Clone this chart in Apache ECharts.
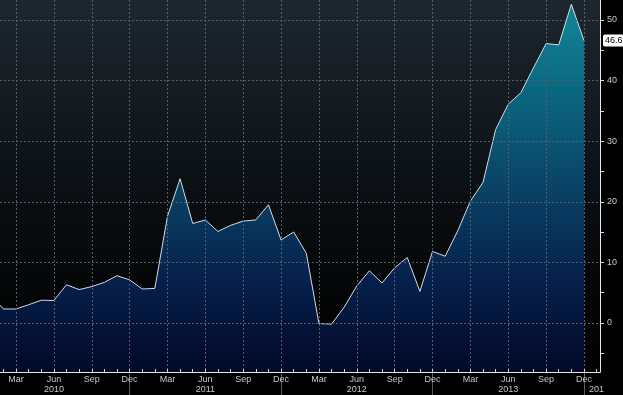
<!DOCTYPE html>
<html>
<head>
<meta charset="utf-8">
<script src="https://cdn.jsdelivr.net/npm/echarts@6/dist/echarts.min.js"></script>
<style>
html,body{margin:0;padding:0;background:#000;}
#chart{width:623px;height:395px;}
</style>
</head>
<body>
<div id="chart"></div>
<script>
// ---- data (monthly, Jan 2010 .. Dec 2013) ----
const monthNames = ['Jan','Feb','Mar','Apr','May','Jun','Jul','Aug','Sep','Oct','Nov','Dec'];
const startYear = 2010;
const values = [
  4.5, 2.3, 2.3, 3.0, 3.75, 3.7, 6.3, 5.5, 6.0, 6.7, 7.8, 7.1,
  5.6, 5.7, 17.6, 23.8, 16.4, 17.0, 15.1, 16.1, 16.8, 17.0, 19.5, 13.7,
  15.0, 11.5, -0.1, -0.2, 2.6, 6.1, 8.6, 6.6, 9.1, 10.8, 5.2, 11.8,
  11.0, 15.2, 20.1, 23.2, 31.9, 36.1, 38.0, 42.1, 46.1, 45.9, 52.6, 46.6
];
const quarterMonths = ['Mar','Jun','Sep','Dec'];
const yearLabelMonth = 'Jun';
const separatorMonth = 'Dec';
const clippedYearLabel = '201';
const yTickLabels = [0, 10, 20, 30, 40, 50];

// ---- layout ----
const W = 623, H = 395;
const plotRight = 600, plotBottom = 372;
const xMin = 0.73, xMax = 48.27;
const yMin = -8.1, yMax = 53.3;
const pxPerMonth = plotRight / (xMax - xMin);
const pxPerUnit = plotBottom / (yMax - yMin);

// axis-only categories: Feb 2010 .. Jan 2014 (indices 1..48)
const tickMonths = [];
for (let i = 1; i <= values.length; i++) {
  tickMonths.push(monthNames[i % 12] + ' ' + (startYear + Math.floor(i / 12)));
}
const tickLeft = (1 - xMin) * pxPerMonth;
const tickRight = W - (values.length - xMin) * pxPerMonth;

const seriesData = values.map((v, i) => [i, v]);
const lastValue = values[values.length - 1];

const gridColor = '#555d66';
const textColor = '#c8c8c8';
const font = 'Liberation Sans, Arial, sans-serif';

const isQuarter = (idx, v) => quarterMonths.indexOf(String(v).split(' ')[0]) >= 0;
const isYearLabel = (idx, v) => {
  const m = String(v).split(' ')[0];
  return m === yearLabelMonth || idx === tickMonths.length - 1;
};
const isSeparator = (idx, v) => String(v).split(' ')[0] === separatorMonth;

const chart = echarts.init(document.getElementById('chart'), null, {renderer: 'canvas'});
chart.setOption({
  animation: false,
  backgroundColor: '#000',
  grid: [
    {left: 0, right: W - plotRight, top: 0, bottom: H - plotBottom, show: true, borderWidth: 0,
     backgroundColor: {type: 'linear', x: 0, y: 0, x2: 0, y2: 1, colorStops: [
       {offset: 0, color: '#1e272f'}, {offset: 0.45, color: '#0d1217'},
       {offset: 0.75, color: '#050607'}, {offset: 1, color: '#020202'}]}},
    {left: tickLeft, right: tickRight, top: 0, bottom: H - plotBottom},
    {left: 0, right: W - plotRight, top: (yMax - 50) * pxPerUnit, bottom: H - (yMax + 5) * pxPerUnit}
  ],
  xAxis: [
    {type: 'value', gridIndex: 0, min: xMin, max: xMax, z: 6,
     axisLine: {show: true, onZero: false, lineStyle: {color: '#e6e6e6', width: 1}},
     axisTick: {show: false}, axisLabel: {show: false}, splitLine: {show: false}},
    {type: 'category', gridIndex: 1, data: tickMonths, boundaryGap: false, position: 'bottom', z: 5,
     axisLine: {show: false, onZero: false},
     axisTick: {show: true, inside: true, length: 3, interval: 0, lineStyle: {color: '#d0d0d0'}},
     axisLabel: {interval: isQuarter, color: textColor, fontSize: 9, fontFamily: font, margin: 3,
                 formatter: v => v.split(' ')[0]},
     splitLine: {show: true, interval: isQuarter, lineStyle: {color: gridColor, type: [2, 2], width: 1}}},
    {type: 'category', gridIndex: 1, data: tickMonths, boundaryGap: false, position: 'bottom', z: 5,
     axisLine: {show: false, onZero: false},
     axisTick: {show: true, inside: false, length: 23, interval: isSeparator, lineStyle: {color: '#5a5a5a'}},
     axisLabel: {interval: isYearLabel, color: textColor, fontSize: 9, fontFamily: font, margin: 13,
                 formatter: (v, idx) => idx === tickMonths.length - 1 ? clippedYearLabel : v.split(' ')[1]},
     splitLine: {show: false}},
    {type: 'value', gridIndex: 2, min: 0, max: 1, show: false, axisLine: {onZero: false}}
  ],
  yAxis: [
    {type: 'value', gridIndex: 0, min: yMin, max: yMax, position: 'right', z: 6,
     axisLine: {show: true, onZero: false, lineStyle: {color: '#e6e6e6', width: 1}},
     axisTick: {show: false}, axisLabel: {show: false}, splitLine: {show: false}},
    {type: 'value', gridIndex: 1, show: false, axisLine: {onZero: false}},
    {type: 'value', gridIndex: 2, min: -5, max: 50, interval: 5, position: 'right', z: 5,
     axisLine: {show: false, onZero: false},
     axisTick: {show: true, length: 4, lineStyle: {color: '#dcdcdc'}},
     axisLabel: {color: textColor, fontSize: 9, fontFamily: font, margin: 7,
                 formatter: v => yTickLabels.indexOf(v) >= 0 ? String(v) : ''},
     splitLine: {show: true, lineStyle: {color: ['rgba(0,0,0,0)', gridColor], type: [2, 2], width: 1}}}
  ],
  series: [{
    type: 'line', xAxisIndex: 0, yAxisIndex: 0, data: seriesData,
    symbol: 'none', showSymbol: false, clip: true, z: 2,
    lineStyle: {color: '#d4dbe0', width: 1},
    areaStyle: {origin: 'start', opacity: 1,
      color: {type: 'linear', x: 0, y: 0, x2: 0, y2: plotBottom, global: true, colorStops: [
        {offset: 0, color: '#12899a'}, {offset: 0.25, color: '#0b6680'},
        {offset: 0.5, color: '#0a4366'}, {offset: 0.75, color: '#06214c'},
        {offset: 1, color: '#020828'}]}},
    markLine: {
      silent: true, symbol: 'none', animation: false, z: 10,
      lineStyle: {color: 'rgba(0,0,0,0)', width: 1, type: 'solid'},
      data: [{yAxis: lastValue}],
      label: {show: true, position: 'end', distance: 3, formatter: p => Number(p.value).toFixed(1),
              backgroundColor: '#ffffff', color: '#000', fontSize: 9, fontFamily: font,
              padding: [2, 2, 1, 2], borderRadius: 2}
    }
  }]
});
</script>
</body>
</html>
